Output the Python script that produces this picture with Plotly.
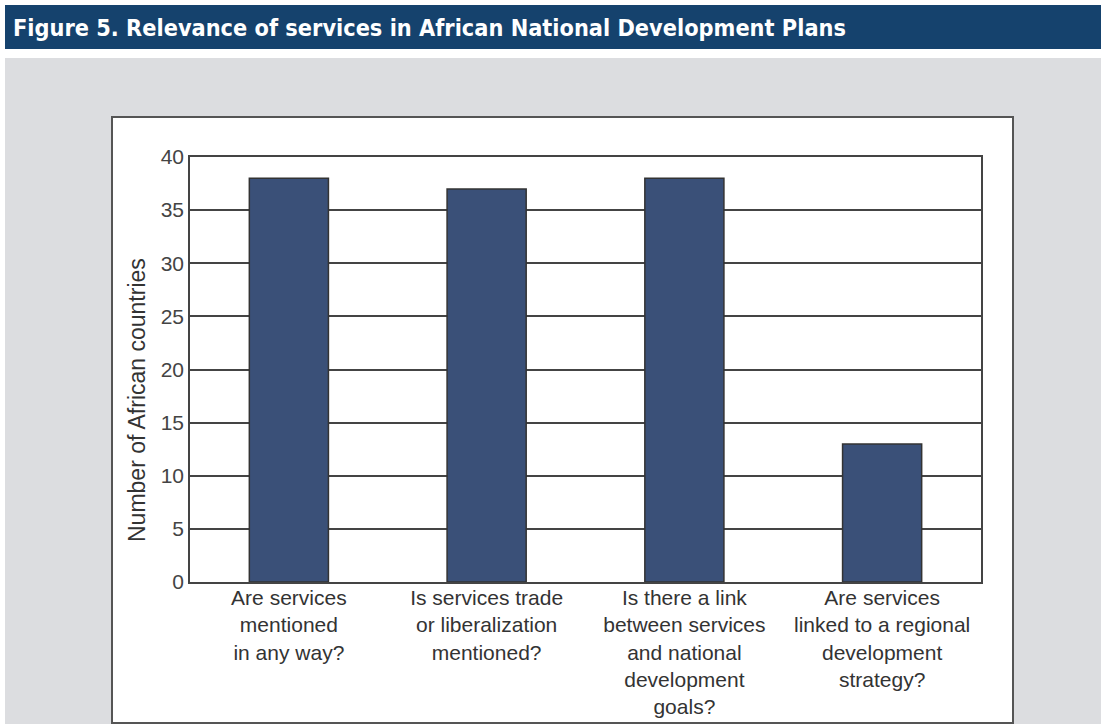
import plotly.graph_objects as go

# Survey questions asked of each national development plan
categories = [
    "Are services<br>mentioned<br>in any way?",
    "Is services trade<br>or liberalization<br>mentioned?",
    "Is there a link<br>between services<br>and national<br>development<br>goals?",
    "Are services<br>linked to a regional<br>development<br>strategy?",
]
# Number of African countries answering yes
counts = [38, 37, 38, 13]
y_ticks = [0, 5, 10, 15, 20, 25, 30, 35, 40]

title_text = "Figure 5. Relevance of services in African National Development Plans"
y_title = "Number of African countries"

W, H = 1101, 724


def px_x(x):
    return x / W


def px_y(y):
    return 1 - y / H


fig = go.Figure()
fig.add_trace(go.Bar(
    x=categories,
    y=counts,
    width=0.4,
    marker=dict(color="#3a5078", line=dict(color="#333333", width=1.5)),
    hoverinfo="x+y",
))

shapes = [
    # header band
    dict(type="rect", xref="paper", yref="paper",
         x0=px_x(5), x1=px_x(1101), y0=px_y(49), y1=px_y(5),
         fillcolor="#15426d", line=dict(width=0), layer="below"),
    # grey panel
    dict(type="rect", xref="paper", yref="paper",
         x0=px_x(5), x1=px_x(1101), y0=px_y(724), y1=px_y(58),
         fillcolor="#dcdde0", line=dict(width=0), layer="below"),
    # white chart box
    dict(type="rect", xref="paper", yref="paper",
         x0=px_x(112), x1=px_x(1013), y0=px_y(723), y1=px_y(117),
         fillcolor="#ffffff", line=dict(color="#555555", width=2), layer="below"),
]

fig.update_layout(
    width=W, height=H,
    margin=dict(l=0, r=0, t=0, b=0, autoexpand=False),
    paper_bgcolor="#ffffff",
    plot_bgcolor="#ffffff",
    showlegend=False,
    bargap=0.6,
    shapes=shapes,
    font=dict(family="Liberation Sans, Arial, sans-serif", color="#333333"),
    annotations=[
        dict(
            text=f"<b>{title_text}</b>",
            xref="paper", yref="paper",
            x=px_x(11), y=px_y(27),
            xanchor="left", yanchor="middle",
            showarrow=False,
            font=dict(family="DejaVu Sans Condensed, sans-serif",
                      size=23.3, color="#ffffff"),
        ),
        dict(
            text=y_title,
            xref="paper", yref="paper",
            x=px_x(137), y=px_y(400),
            xanchor="center", yanchor="middle",
            textangle=-90,
            showarrow=False,
            font=dict(size=23, color="#333333"),
        ),
    ],
)

fig.update_xaxes(
    domain=[px_x(190), px_x(981)],
    automargin=False,
    showline=True, mirror=True, linecolor="#444444", linewidth=1.5,
    ticks="", showgrid=False,
    ticklabelstandoff=-4,
    tickfont=dict(size=21, color="#333333"),
)
fig.update_yaxes(
    domain=[px_y(582), px_y(157)],
    automargin=False,
    range=[0, 40],
    tickvals=y_ticks,
    showline=True, mirror=True, linecolor="#444444", linewidth=1.5,
    showgrid=True, gridcolor="#444444", gridwidth=1.5,
    zeroline=False, ticks="",
    tickfont=dict(size=21, color="#444444"),
)

fig.write_html("out.html")
